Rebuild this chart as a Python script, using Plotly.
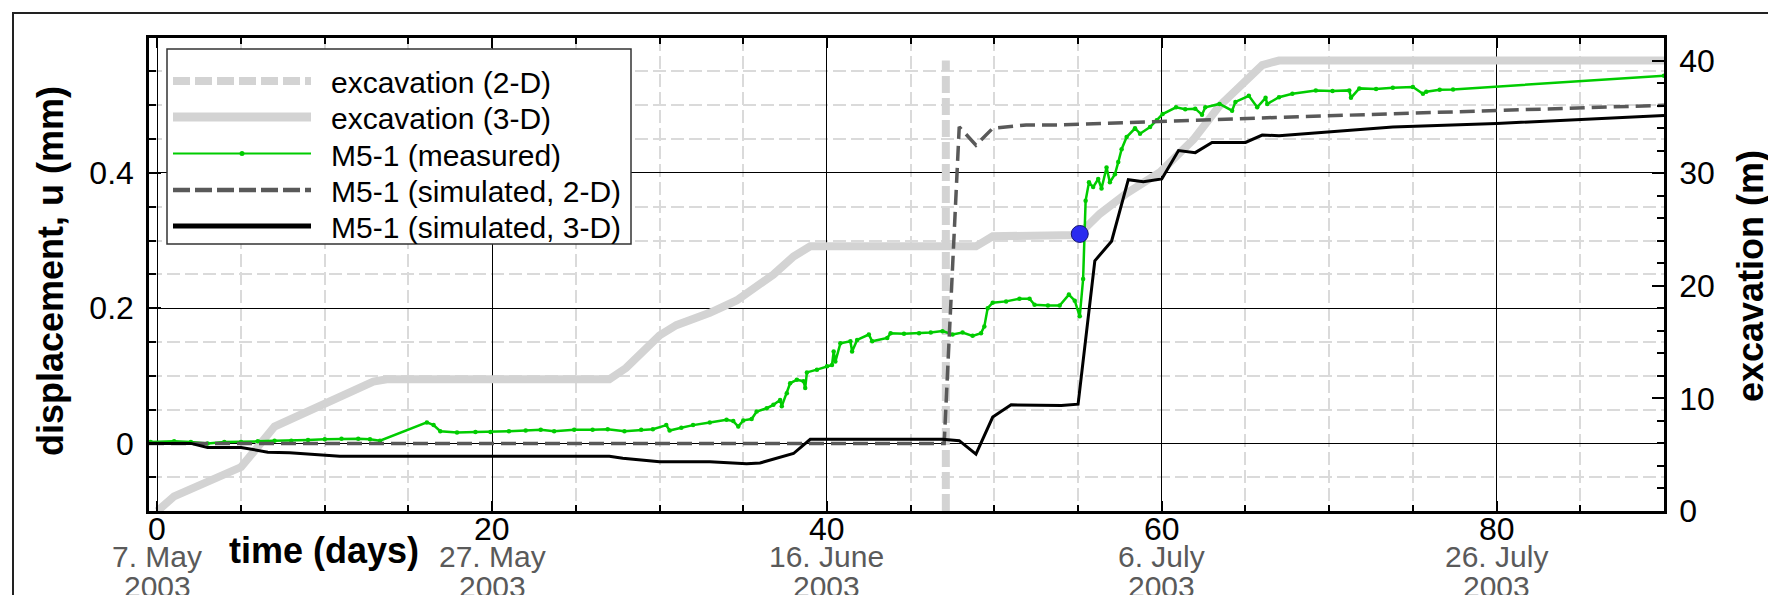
import plotly.graph_objects as go

# ---------------- data ----------------
exc3d_day = [0, 1, 5, 7, 12.9, 13.7, 27.0, 28.0, 30.0, 31.0, 33.0, 34.6, 36.8, 38.0, 39.0,
             48.9, 49.9, 55.0, 56.3, 57.9, 59.9, 61.9, 63.4, 65.0, 66.0, 67.0, 90]
exc3d_m = [0, 1.3, 3.9, 7.5, 11.5, 11.7, 11.7, 12.7, 15.6, 16.5, 17.6, 18.7, 21.0, 22.6, 23.5,
           23.5, 24.4, 24.5, 26.4, 28.2, 30.1, 33.0, 35.9, 38.1, 39.6, 40, 40]

exc2d_day = [47.1, 47.1]
exc2d_m = [0, 40]

meas_day = [-0.4, 1.0, 2.0, 3.0, 4.0, 5.0, 6.0, 7.0, 8.0, 9.0, 10.0, 11.0, 12.0, 12.7, 13.3,
            16.1, 16.5, 16.9, 17.9, 19.0, 19.9, 21.0, 22.0, 22.9, 23.7, 24.9, 26.0, 26.9, 27.9,
            28.9, 29.6, 30.4, 30.6, 31.3, 32.0, 33.0, 34.0, 34.4, 34.7, 35.0, 35.5, 35.8, 36.4,
            36.8, 37.2, 37.3, 37.6, 37.8, 38.2, 38.6, 38.7, 38.8, 39.4, 40.0, 40.3, 40.4, 40.5,
            40.8, 41.4, 41.5, 41.8, 42.5, 42.7, 43.6, 43.8, 44.6, 45.5, 46.2, 46.9, 47.5, 48.1,
            48.7, 49.2, 49.4, 49.6, 49.9, 50.7, 51.5, 52.1, 52.4, 53.2, 53.9, 54.45, 54.8, 55.1,
            55.3, 55.45, 55.65, 55.9, 56.2, 56.4, 56.7, 56.9, 57.2, 57.4, 57.6, 57.9, 58.4, 58.7,
            59.3, 59.7, 60.05, 60.85, 61.4, 62.0, 62.4, 62.6, 63.45, 64.2, 64.4, 65.2, 65.7, 66.2,
            66.3, 67.0, 67.8, 69.2, 70.2, 71.2, 71.3, 71.8, 72.8, 73.8, 75.0, 75.6, 75.8, 76.6,
            77.4, 90.0]
meas_mm = [0.002, 0.003, 0.002, 0.000, 0.002, 0.002, 0.003, 0.004, 0.004, 0.005, 0.006, 0.007, 0.007, 0.006, 0.004,
           0.031, 0.027, 0.018, 0.016, 0.017, 0.017, 0.018, 0.019, 0.020, 0.018, 0.020, 0.020, 0.021, 0.018,
           0.020, 0.021, 0.027, 0.019, 0.023, 0.027, 0.031, 0.035, 0.033, 0.025, 0.034, 0.036, 0.047, 0.052,
           0.057, 0.064, 0.055, 0.074, 0.089, 0.094, 0.092, 0.082, 0.105, 0.109, 0.114, 0.116, 0.136, 0.121,
           0.148, 0.151, 0.136, 0.153, 0.161, 0.151, 0.156, 0.163, 0.162, 0.163, 0.164, 0.166, 0.161, 0.164,
           0.159, 0.163, 0.173, 0.200, 0.208, 0.210, 0.214, 0.214, 0.205, 0.204, 0.204, 0.220, 0.211, 0.188,
           0.243, 0.359, 0.386, 0.379, 0.391, 0.377, 0.408, 0.386, 0.398, 0.416, 0.435, 0.453, 0.466, 0.458,
           0.468, 0.478, 0.487, 0.497, 0.494, 0.495, 0.486, 0.497, 0.502, 0.492, 0.505, 0.514, 0.497, 0.511,
           0.502, 0.512, 0.517, 0.522, 0.521, 0.522, 0.511, 0.525, 0.524, 0.526, 0.527, 0.517, 0.520, 0.523,
           0.5235, 0.5435]

sim2d_day = [-0.5, 47.0, 47.9, 48.9, 49.9, 51.9, 54.0, 66.8, 90]
sim2d_mm = [0, 0, 0.468, 0.441, 0.466, 0.471, 0.471, 0.482, 0.500]

sim3d_day = [-0.5, 2.0, 3.0, 5.0, 6.6, 7.9, 10.9, 27.0, 27.8, 30.0, 33.0, 35.2, 36.0, 38.0, 39.0,
             46.9, 47.9, 48.9, 49.9, 51.0, 54.0, 55.0, 56.0, 57.0, 58.0, 58.9, 60.0, 61.0, 62.0,
             63.0, 65.0, 66.0, 67.0, 73.8, 80.0, 90.0]
sim3d_mm = [0, 0, -0.006, -0.006, -0.013, -0.014, -0.019, -0.019, -0.022, -0.027, -0.027, -0.030, -0.029,
            -0.015, 0.006, 0.006, 0.004, -0.016, 0.039, 0.057, 0.056, 0.058, 0.270, 0.299, 0.390, 0.387,
            0.391, 0.433, 0.430, 0.445, 0.445, 0.456, 0.455, 0.468, 0.473, 0.485]

marker_day = [55.1]
marker_m = [24.6]

day_ticks = [0, 20, 40, 60, 80]
day_tick_text = ["0", "20", "40", "60", "80"]
date_labels = ["7. May", "27. May", "16. June", "6. July", "26. July"]
year_labels = ["2003", "2003", "2003", "2003", "2003"]

legend_names = ["excavation (2-D)", "excavation (3-D)", "M5-1 (measured)",
                "M5-1 (simulated, 2-D)", "M5-1 (simulated, 3-D)"]

# ---------------- styling ----------------
FONT = "Liberation Sans, Arial, Helvetica, sans-serif"
GRAY = "#d3d3d3"
GREEN = "#00cc00"
DGRAY = "#595959"
OFF = 8  # page offset of the plot div inside the browser window
W, H = 1776 - OFF, 595 - OFF
ML, MT = 149 - OFF, 38 - OFF
MR = W - (1664 - OFF)
MB = H - (511 - OFF)
PW, PH = W - ML - MR, H - MT - MB


def px(x):
    # window pixel x -> paper coordinate
    return (x - 149) / PW


def py(y):
    # window pixel y -> paper coordinate
    return (511 - y) / PH


fig = go.Figure()
fig.add_trace(go.Scatter(x=exc2d_day, y=exc2d_m, yaxis="y", mode="lines",
                         line=dict(color=GRAY, width=8, dash="17px,5px"), showlegend=False))
fig.add_trace(go.Scatter(x=exc3d_day, y=exc3d_m, yaxis="y", mode="lines",
                         line=dict(color=GRAY, width=8), showlegend=False))
fig.add_trace(go.Scatter(x=meas_day, y=meas_mm, yaxis="y2", mode="lines+markers",
                         line=dict(color=GREEN, width=2.5), marker=dict(color=GREEN, size=4.5),
                         showlegend=False))
fig.add_trace(go.Scatter(x=sim2d_day, y=sim2d_mm, yaxis="y2", mode="lines",
                         line=dict(color=DGRAY, width=3.5, dash="15px,7px"), showlegend=False))
fig.add_trace(go.Scatter(x=sim3d_day, y=sim3d_mm, yaxis="y2", mode="lines",
                         line=dict(color="black", width=3), showlegend=False))
fig.add_trace(go.Scatter(x=marker_day, y=marker_m, yaxis="y3", mode="markers",
                         marker=dict(color="#2b2bf0", size=17, line=dict(color="#151570", width=1)),
                         showlegend=False))

minor_grid = dict(showgrid=True, gridcolor="#dadada", griddash="13px,5px", gridwidth=1.5)

fig.update_layout(
    width=W, height=H, margin=dict(l=ML, r=MR, t=MT, b=MB, autoexpand=False),
    paper_bgcolor="white", plot_bgcolor="white", showlegend=False,
    font=dict(family=FONT, color="black", size=32),
    xaxis=dict(range=[-0.5, 90], tickmode="linear", tick0=0, dtick=20,
               ticks="inside", ticklen=10, tickwidth=1.5, tickcolor="black",
               showticklabels=False, automargin=False,
               showgrid=True, gridcolor="black", gridwidth=1,
               minor=dict(tickmode="linear", tick0=0, dtick=5, ticks="inside", ticklen=6,
                          tickwidth=1.5, tickcolor="black", **minor_grid),
               showline=True, linecolor="black", linewidth=2.5, mirror="ticks",
               zeroline=False),
    yaxis=dict(range=[0, 42], side="right", tickmode="linear", tick0=0, dtick=10,
               ticks="inside", ticklen=12, tickwidth=1.5, tickcolor="black",
               minor=dict(tickmode="linear", tick0=0, dtick=2, ticks="inside", ticklen=7,
                          tickwidth=1.5, tickcolor="black", showgrid=False),
               showgrid=False, zeroline=False, showline=True, linecolor="black", linewidth=2.5,
               tickfont=dict(size=32), ticklabelstandoff=6, automargin=False),
    yaxis2=dict(range=[-0.1, 0.5995], side="left", overlaying="y", anchor="x",
                tickmode="linear", tick0=0, dtick=0.2,
                ticks="inside", ticklen=12, tickwidth=1.5, tickcolor="black",
                showgrid=True, gridcolor="black", gridwidth=1,
                minor=dict(tickmode="linear", tick0=0, dtick=0.05, ticks="inside", ticklen=7,
                           tickwidth=1.5, tickcolor="black", **minor_grid),
                zeroline=False, showline=True, linecolor="black", linewidth=2.5,
                tickfont=dict(size=32), ticklabelstandoff=6, automargin=False),
    yaxis3=dict(range=[0, 42], overlaying="y", visible=False),
)

ann = []
for d, t, lab, yr in zip(day_ticks, day_tick_text, date_labels, year_labels):
    ann.append(dict(x=d, xref="x", y=py(529), yref="paper", text=t, showarrow=False,
                    font=dict(size=32, color="black", family=FONT), xanchor="center", yanchor="middle"))
    ann.append(dict(x=d, xref="x", y=py(556), yref="paper", text=lab, showarrow=False,
                    font=dict(size=30, color="#5a5a5a", family=FONT), xanchor="center", yanchor="middle"))
    ann.append(dict(x=d, xref="x", y=py(586), yref="paper", text=yr, showarrow=False,
                    font=dict(size=30, color="#5a5a5a", family=FONT), xanchor="center", yanchor="middle"))

ann.append(dict(x=px(324), y=py(550), xref="paper", yref="paper", text="<b>time (days)</b>",
                showarrow=False, font=dict(size=36, family=FONT), xanchor="center", yanchor="middle"))
ann.append(dict(x=px(50), y=py(271), xref="paper", yref="paper", text="<b>displacement, u (mm)</b>",
                showarrow=False, textangle=-90, font=dict(size=36, family=FONT),
                xanchor="center", yanchor="middle"))
ann.append(dict(x=px(1750), y=py(276), xref="paper", yref="paper", text="<b>excavation (m)</b>",
                showarrow=False, textangle=-90, font=dict(size=36, family=FONT),
                xanchor="center", yanchor="middle"))

# outer frame and custom legend
shapes = []
shapes.append(dict(type="rect", xref="paper", yref="paper", x0=px(13), x1=px(1770), y0=py(620), y1=py(13),
                   line=dict(color="#222", width=2), fillcolor="rgba(0,0,0,0)", layer="above"))
shapes.append(dict(type="rect", xref="paper", yref="paper", x0=px(167), x1=px(631), y0=py(244), y1=py(49),
                   line=dict(color="#333", width=1.5), fillcolor="white", layer="above"))
rows = [81, 117, 153.5, 190, 226]
styles = [dict(color=GRAY, width=8, dash="17px,5px"),
          dict(color=GRAY, width=9),
          dict(color=GREEN, width=2),
          dict(color=DGRAY, width=4.5, dash="17px,5px"),
          dict(color="black", width=5)]
for r, st, name in zip(rows, styles, legend_names):
    shapes.append(dict(type="line", xref="paper", yref="paper", x0=px(173), x1=px(311),
                       y0=py(r), y1=py(r), line=st, layer="above"))
    ann.append(dict(x=px(329), y=py(r + 1.5), xref="paper", yref="paper", text=name, showarrow=False,
                    font=dict(size=30, family=FONT), xanchor="left", yanchor="middle"))
shapes.append(dict(type="circle", xref="paper", yref="paper", x0=px(239.5), x1=px(244.5),
                   y0=py(rows[2] + 2.5), y1=py(rows[2] - 2.5), fillcolor=GREEN,
                   line=dict(color=GREEN, width=0), layer="above"))

fig.update_layout(annotations=ann, shapes=shapes)
fig.write_html("out.html")
